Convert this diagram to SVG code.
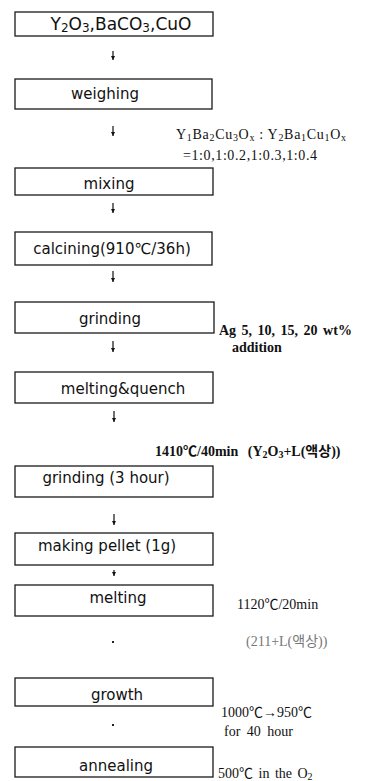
<svg xmlns="http://www.w3.org/2000/svg" width="390" height="781" viewBox="0 0 390 781">
<style>
.box{fill:#fff;stroke:#1a1a1a;stroke-width:1.3}
.bt{font-family:"DejaVu Sans","Liberation Sans",sans-serif;font-size:15px;fill:#111;text-anchor:middle}
.st{font-family:"Liberation Serif","Noto Sans CJK KR",serif;font-size:14px;fill:#111}
.sb{font-weight:bold}
.faint{fill:#777}
.conn{stroke:#111;stroke-width:1.2;fill:none}
.dot{stroke:#222;stroke-width:2}
</style>
<defs>
<marker id="ah" viewBox="0 0 6 6" refX="6" refY="3" markerWidth="4" markerHeight="4" markerUnits="userSpaceOnUse" orient="auto">
<path d="M0,0 L6,3 L0,6 z" fill="#111"/>
</marker>
</defs>
<rect width="390" height="781" fill="#fff"/>

<g id="n1"><rect class="box" x="15" y="12" width="198" height="24"/>
<text class="bt" x="121" y="30" style="font-size:17px">Y<tspan font-size="12" dy="2">2</tspan><tspan dy="-2">O</tspan><tspan font-size="12" dy="2">3</tspan><tspan dy="-2">,BaCO</tspan><tspan font-size="12" dy="2">3</tspan><tspan dy="-2">,CuO</tspan></text></g>

<g id="n2"><rect class="box" x="15" y="79" width="197" height="30"/>
<text class="bt" x="105" y="99">weighing</text></g>

<g id="n3"><rect class="box" x="15" y="168" width="198" height="27"/>
<text class="bt" x="109" y="189">mixing</text></g>

<g id="n4"><rect class="box" x="15" y="232" width="197" height="33"/>
<text class="bt" x="112" y="254">calcining(910℃/36h)</text></g>

<g id="n5"><rect class="box" x="15" y="302" width="199" height="31"/>
<text class="bt" x="110" y="324">grinding</text></g>

<g id="n6"><rect class="box" x="15" y="372" width="198" height="31"/>
<text class="bt" x="123" y="394">melting&amp;quench</text></g>

<g id="n7"><rect class="box" x="15" y="466" width="198" height="31"/>
<text class="bt" x="106" y="483">grinding (3 hour)</text></g>

<g id="n8"><rect class="box" x="15" y="533" width="198" height="32"/>
<text class="bt" x="107" y="551">making pellet (1g)</text></g>

<g id="n9"><rect class="box" x="15" y="585" width="198" height="31"/>
<text class="bt" x="118" y="603">melting</text></g>

<g id="n10"><rect class="box" x="15" y="678" width="198" height="28"/>
<text class="bt" x="117" y="700">growth</text></g>

<g id="n11"><rect class="box" x="15" y="747" width="198" height="30"/>
<text class="bt" x="116" y="771">annealing</text></g>

<g id="connectors">
<path class="conn" d="M113,51 V60" marker-end="url(#ah)"/>
<path class="conn" d="M113,126 V136" marker-end="url(#ah)"/>
<path class="conn" d="M113,203 V213" marker-end="url(#ah)"/>
<path class="conn" d="M113,271 V282" marker-end="url(#ah)"/>
<path class="conn" d="M113,341 V352" marker-end="url(#ah)"/>
<path class="conn" d="M114,411 V422" marker-end="url(#ah)"/>
<path class="conn" d="M114,514 V525" marker-end="url(#ah)"/>
<path class="conn" d="M114,570 V576" marker-end="url(#ah)"/>
<path class="dot" d="M113,641 V643"/>
<path class="dot" d="M113,724 V726"/>
</g>

<g id="annotations">
<text class="st" x="176" y="139" textLength="170">Y<tspan font-size="10" dy="2">1</tspan><tspan dy="-2">Ba</tspan><tspan font-size="10" dy="2">2</tspan><tspan dy="-2">Cu</tspan><tspan font-size="10" dy="2">3</tspan><tspan dy="-2">O</tspan><tspan font-size="10" dy="2">x</tspan><tspan dy="-2"> : Y</tspan><tspan font-size="10" dy="2">2</tspan><tspan dy="-2">Ba</tspan><tspan font-size="10" dy="2">1</tspan><tspan dy="-2">Cu</tspan><tspan font-size="10" dy="2">1</tspan><tspan dy="-2">O</tspan><tspan font-size="10" dy="2">x</tspan></text>
<text class="st" x="183" y="160" textLength="134">=1:0,1:0.2,1:0.3,1:0.4</text>
<text class="st sb" x="219" y="335" word-spacing="2">Ag 5, 10, 15, 20 wt%</text>
<text class="st sb" x="232" y="352">addition</text>
<text class="st sb" x="155" y="456" word-spacing="6">1410℃/40min (Y<tspan font-size="10" dy="2">2</tspan><tspan dy="-2">O</tspan><tspan font-size="10" dy="2">3</tspan><tspan dy="-2">+L(액상))</tspan></text>
<text class="st" x="237" y="609">1120℃/20min</text>
<text class="st faint" x="246" y="646">(211+L(액상))</text>
<text class="st" x="221" y="717">1000℃→950℃</text>
<text class="st" x="224" y="736" word-spacing="3">for 40 hour</text>
<text class="st" x="218" y="778" word-spacing="2">500℃ in the O<tspan font-size="10" dy="2">2</tspan></text>
</g>
</svg>
